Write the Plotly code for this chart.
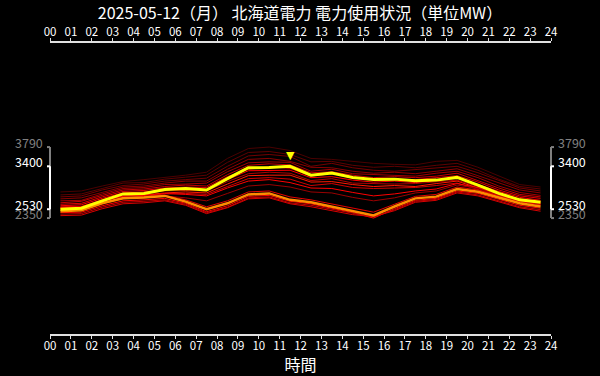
import plotly.graph_objects as go

# ---------------- data ----------------
title_text = "2025-05-12（月） 北海道電力 電力使用状況（単位MW）"
x_title = "時間"
hour_ticks = list(range(0, 25))
hour_labels = ["00", "01", "02", "03", "04", "05", "06", "07", "08", "09", "10", "11",
               "12", "13", "14", "15", "16", "17", "18", "19", "20", "21", "22", "23", "24"]

times = [0.5, 1.5, 2.5, 3.5, 4.5, 5.5, 6.5, 7.5, 8.5, 9.5, 10.5, 11.5,
         12.5, 13.5, 14.5, 15.5, 16.5, 17.5, 18.5, 19.5, 20.5, 21.5, 22.5, 23.5]

today = [2530, 2550, 2700, 2840, 2850, 2930, 2950, 2920, 3150, 3370, 3375, 3400,
         3220, 3265, 3175, 3135, 3140, 3105, 3120, 3175, 3020, 2850, 2720, 2670]

highlight = [2490, 2510, 2650, 2750, 2765, 2800, 2685, 2530, 2650, 2830, 2850, 2720,
             2670, 2585, 2505, 2405, 2585, 2750, 2785, 2940, 2885, 2765, 2650, 2585]

past_days = [
    [2880, 2900, 3000, 3090, 3130, 3170, 3220, 3280, 3560, 3760, 3790, 3720,
     3560, 3540, 3500, 3460, 3440, 3430, 3500, 3520, 3380, 3200, 3030, 2980],
    [2820, 2840, 2950, 3060, 3070, 3140, 3180, 3220, 3480, 3680, 3700, 3640,
     3490, 3500, 3420, 3380, 3400, 3370, 3420, 3460, 3320, 3140, 2990, 2940],
    [2780, 2800, 2920, 3010, 3040, 3100, 3130, 3160, 3400, 3610, 3640, 3600,
     3400, 3460, 3370, 3320, 3300, 3330, 3370, 3400, 3270, 3110, 2960, 2900],
    [2740, 2760, 2870, 2980, 3000, 3060, 3100, 3100, 3340, 3540, 3560, 3500,
     3380, 3370, 3300, 3260, 3280, 3250, 3300, 3350, 3210, 3060, 2920, 2860],
    [2700, 2710, 2840, 2950, 2970, 3030, 3040, 3060, 3290, 3470, 3490, 3480,
     3300, 3340, 3250, 3230, 3210, 3200, 3260, 3300, 3170, 3000, 2870, 2810],
    [2660, 2690, 2810, 2920, 2940, 2990, 3020, 3000, 3230, 3420, 3450, 3430,
     3270, 3290, 3220, 3170, 3190, 3170, 3200, 3260, 3110, 2960, 2830, 2780],
    [2630, 2650, 2780, 2890, 2910, 2960, 2980, 2970, 3190, 3340, 3390, 3360,
     3200, 3250, 3160, 3140, 3130, 3130, 3170, 3210, 3080, 2920, 2800, 2750],
    [2600, 2620, 2750, 2860, 2880, 2920, 2950, 2930, 3130, 3310, 3320, 3320,
     3170, 3190, 3120, 3080, 3100, 3070, 3110, 3170, 3030, 2890, 2770, 2710],
    [2580, 2590, 2720, 2830, 2850, 2900, 2910, 2900, 3090, 3250, 3280, 3260,
     3110, 3150, 3060, 3050, 3040, 3050, 3080, 3120, 2990, 2850, 2740, 2690],
    [2560, 2570, 2690, 2800, 2820, 2860, 2880, 2860, 3040, 3210, 3220, 3220,
     3080, 3090, 3030, 2990, 3010, 2990, 3050, 3100, 2960, 2810, 2700, 2650],
    [2540, 2550, 2660, 2770, 2790, 2840, 2850, 2830, 2990, 3150, 3170, 3140,
     3010, 3050, 2970, 2950, 2960, 2970, 3010, 3060, 2930, 2780, 2680, 2630],
    [2570, 2580, 2700, 2790, 2810, 2850, 2830, 2800, 2960, 3100, 3130, 3070,
     2960, 2950, 2870, 2800, 2840, 2900, 2940, 3050, 2970, 2830, 2720, 2660],
    [2500, 2510, 2640, 2740, 2760, 2800, 2760, 2700, 2850, 3000, 3030, 2980,
     2880, 2860, 2770, 2700, 2760, 2860, 2900, 3020, 2950, 2810, 2690, 2630],
    [2520, 2530, 2660, 2760, 2780, 2810, 2720, 2580, 2700, 2880, 2900, 2780,
     2720, 2640, 2560, 2470, 2630, 2790, 2830, 2980, 2920, 2800, 2690, 2620],
    [2460, 2470, 2600, 2700, 2720, 2750, 2650, 2480, 2600, 2790, 2810, 2690,
     2640, 2550, 2460, 2350, 2540, 2710, 2750, 2900, 2850, 2730, 2610, 2550],
    [2430, 2440, 2570, 2670, 2690, 2720, 2630, 2460, 2570, 2760, 2780, 2660,
     2610, 2530, 2450, 2370, 2520, 2690, 2730, 2880, 2820, 2700, 2580, 2520],
    [2400, 2410, 2540, 2640, 2660, 2700, 2610, 2440, 2560, 2740, 2760, 2640,
     2580, 2500, 2420, 2380, 2500, 2670, 2710, 2860, 2800, 2680, 2560, 2490],
]
past_colors = ["#4a0000", "#5e0000", "#720000", "#8a0000", "#a00000", "#c40000",
               "#e00000", "#ff0000", "#b00000", "#ff1a00", "#d00000", "#ff0000",
               "#9a0000", "#e60000", "#ff0000", "#c00000", "#d80000"]

today_color = "#ffff00"
highlight_color = "#ff8c00"
font_family = "Noto Sans CJK JP"

# ---------------- figure ----------------
fig = go.Figure()
for vals, col in zip(past_days, past_colors):
    fig.add_trace(go.Scatter(x=times, y=vals, mode="lines",
                             line=dict(color=col, width=1), hoverinfo="skip"))
fig.add_trace(go.Scatter(x=times, y=highlight, mode="lines",
                         line=dict(color=highlight_color, width=2.5)))
fig.add_trace(go.Scatter(x=times, y=today, mode="lines",
                         line=dict(color=today_color, width=3)))
fig.add_trace(go.Scatter(x=[None], y=[None], xaxis="x2", showlegend=False))

all_vals = [v for s in past_days for v in s] + today + highlight
all_min, all_max = min(all_vals), max(all_vals)
t_min, t_max = min(today), max(today)
peak_t = times[today.index(t_max)]

shapes = []
annos = []
for xpos, dirn, anchor in [(0, -1, "right"), (1, 1, "left")]:
    for lo, hi, col in [(all_min, all_max, "#808080"), (t_min, t_max, "#ffffff")]:
        shapes.append(dict(type="line", xref="paper", yref="y", x0=xpos, x1=xpos,
                           y0=lo, y1=hi, line=dict(color=col, width=2)))
        for v in (lo, hi):
            shapes.append(dict(type="line", xref="paper", yref="y", xsizemode="pixel",
                               xanchor=xpos, x0=0, x1=3 * dirn, y0=v, y1=v,
                               line=dict(color=col, width=2)))
            annos.append(dict(xref="paper", yref="y", x=xpos, y=v, text=str(v),
                              showarrow=False, xanchor=anchor, yanchor="middle",
                              xshift=5 * dirn, yshift=5,
                              font=dict(color=col, size=12.5, family=font_family)))

annos.append(dict(x=peak_t, y=t_max, text="▼", showarrow=False, yanchor="middle",
                  yshift=11, font=dict(color=today_color, size=11, family="DejaVu Sans")))

axis_common = dict(range=[0, 24], tickmode="array", tickvals=hour_ticks, ticktext=hour_labels,
                   showgrid=False, zeroline=False, showline=True, linecolor="#e0e0e0",
                   linewidth=1.5, ticks="outside", ticklen=3, tickcolor="#e0e0e0",
                   tickfont=dict(color="#ffffff", size=11.5, family=font_family))

fig.update_layout(
    width=600, height=376,
    paper_bgcolor="#000000", plot_bgcolor="#000000",
    margin=dict(l=50, r=49, t=43, b=26),
    showlegend=False,
    title=dict(text=title_text, x=0.5, xanchor="center", y=0.965, yanchor="middle",
               font=dict(color="#ffffff", size=16, family=font_family)),
    xaxis=dict(**axis_common, ticklabelstandoff=-3,
               title=dict(text=x_title, standoff=0,
                          font=dict(color="#ffffff", size=16, family=font_family))),
    xaxis2=dict(**axis_common, overlaying="x", side="top", ticklabelstandoff=-2),
    yaxis=dict(range=[0, 5900], visible=False),
    shapes=shapes,
    annotations=annos,
)

fig.write_html("out.html", config={"displayModeBar": False},
               post_script="document.body.style.margin='0';document.body.style.background='#000';")
